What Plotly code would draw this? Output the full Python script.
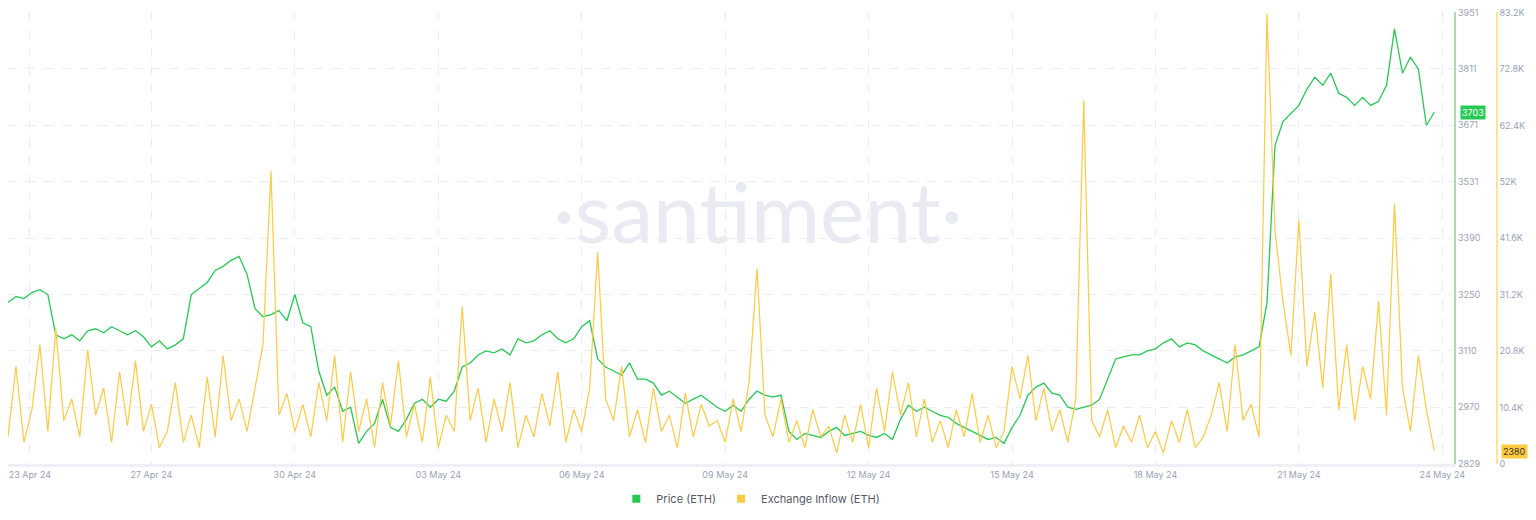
import plotly.graph_objects as go
import pandas as pd

# 4-hourly samples from 24 Apr 2024 00:00
times = pd.date_range("2024-04-24 00:00", periods=180, freq="4h")

price = [
    3230, 3245, 3240, 3255, 3262, 3250, 3150, 3140, 3150, 3135,
    3160, 3165, 3155, 3170, 3160, 3150, 3160, 3145, 3120, 3135,
    3115, 3125, 3140, 3250, 3265, 3280, 3310, 3320, 3335, 3345,
    3300, 3215, 3195, 3200, 3210, 3185, 3250, 3180, 3170, 3060,
    3000, 3020, 2960, 2970, 2880, 2910, 2930, 2990, 2920, 2910,
    2940, 2980, 2990, 2970, 2990, 2985, 3010, 3070, 3080, 3100,
    3110, 3105, 3115, 3100, 3140, 3130, 3135, 3150, 3160, 3140,
    3130, 3140, 3170, 3185, 3090, 3070, 3060, 3050, 3080, 3040,
    3040, 3030, 3000, 3010, 2995, 2980, 2990, 3000, 2985, 2970,
    2960, 2975, 2960, 2990, 3010, 3000, 2995, 3000, 2910, 2890,
    2905, 2900, 2895, 2910, 2920, 2900, 2905, 2910, 2900, 2895,
    2905, 2890, 2940, 2975, 2960, 2970, 2960, 2950, 2945, 2930,
    2920, 2910, 2900, 2890, 2895, 2880, 2920, 2950, 3000, 3020,
    3030, 3005, 3000, 2970, 2965, 2970, 2975, 2990, 3040, 3090,
    3095, 3100, 3100, 3110, 3115, 3130, 3140, 3120, 3130, 3125,
    3110, 3100, 3090, 3080, 3095, 3100, 3110, 3120, 3230, 3620,
    3680, 3700, 3720, 3760, 3790, 3770, 3800, 3750, 3740, 3720,
    3740, 3720, 3730, 3770, 3910, 3800, 3840, 3810, 3670, 3703,
]

inflow_k = [
    5, 18, 4, 10, 22, 6, 25, 8, 12, 5,
    21, 9, 14, 4, 17, 7, 19, 6, 11, 3,
    6, 15, 4, 9, 3, 16, 5, 20, 8, 12,
    6, 14, 22, 54, 9, 13, 6, 11, 5, 15,
    8, 20, 4, 17, 6, 12, 3, 15, 7, 19,
    5, 11, 4, 16, 3, 9, 6, 29, 8, 14,
    4, 12, 6, 15, 3, 9, 5, 13, 7, 17,
    4, 10, 6, 14, 39, 12, 8, 18, 5, 10,
    4, 14, 6, 9, 3, 13, 5, 11, 7, 8,
    4, 12, 6, 15, 36, 9, 5, 12, 4, 8,
    3, 10, 5, 7, 2, 9, 4, 11, 3, 14,
    6, 17, 9, 15, 5, 12, 4, 8, 3, 10,
    5, 13, 4, 9, 3, 6, 18, 12, 20, 8,
    14, 6, 10, 4, 12, 67, 8, 5, 10, 3,
    7, 4, 9, 3, 6, 2, 8, 4, 10, 3,
    5, 9, 15, 6, 22, 8, 11, 5, 83, 43,
    30, 20, 45, 18, 28, 14, 35, 10, 22, 8,
    18, 12, 30, 9, 48, 14, 6, 20, 10, 2.38,
]
inflow = [v * 1000 for v in inflow_k]

date_ticks = ["2024-04-24 11:00", "2024-04-27", "2024-04-30", "2024-05-03", "2024-05-06",
              "2024-05-09", "2024-05-12", "2024-05-15", "2024-05-18", "2024-05-21", "2024-05-24"]
date_labels = ["23 Apr 24", "27 Apr 24", "30 Apr 24", "03 May 24", "06 May 24", "09 May 24",
               "12 May 24", "15 May 24", "18 May 24", "21 May 24", "24 May 24"]
price_ticks = [2829, 2970, 3110, 3250, 3390, 3531, 3671, 3811, 3951]
inflow_ticks = [0, 10400, 20800, 31200, 41600, 52000, 62400, 72800, 83200]
inflow_labels = ["0", "10.4K", "20.8K", "31.2K", "41.6K", "52K", "62.4K", "72.8K", "83.2K"]

GREEN = "#26c953"
YELLOW = "#ffc940"
TICK = "#9aa1b5"

fig = go.Figure()
fig.add_trace(go.Scatter(x=times, y=inflow, name="Exchange Inflow (ETH)", yaxis="y2",
                         line=dict(color=YELLOW, width=1.2), showlegend=False))
fig.add_trace(go.Scatter(x=times, y=price, name="Price (ETH)",
                         line=dict(color=GREEN, width=1.3), showlegend=False))
# legend entries as squares
fig.add_trace(go.Scatter(x=[None], y=[None], mode="markers", name="Price (ETH)",
                         marker=dict(symbol="square", color=GREEN, size=8)))
fig.add_trace(go.Scatter(x=[None], y=[None], mode="markers", name="Exchange Inflow (ETH)",
                         marker=dict(symbol="square", color=YELLOW, size=8)))

grid = dict(showgrid=True, gridcolor="#ececf0", griddash="dash", gridwidth=1)
fig.update_layout(
    width=1536, height=520, plot_bgcolor="white", paper_bgcolor="white",
    margin=dict(l=0, r=20, t=4, b=64, autoexpand=False),
    font=dict(family="Inter, Roboto, sans-serif", color=TICK, size=9),
    xaxis=dict(domain=[0, 0.954], range=["2024-04-24 00:00", "2024-05-24 06:00"],
               tickvals=date_ticks, ticktext=date_labels, showline=True,
               linecolor="#eef0f5", linewidth=3, ticks="", **grid),
    yaxis=dict(side="right", range=[2829, 3952], tickvals=price_ticks, showline=True,
               linecolor="#9fe3ad", linewidth=2, ticks="", zeroline=False,
               ticklabeloverflow="allow", **grid),
    yaxis2=dict(overlaying="y", side="right", anchor="free", position=0.982,
                range=[0, 83300], tickvals=inflow_ticks, ticktext=inflow_labels,
                showline=True, linecolor="#ffe29a", linewidth=2, showgrid=False,
                zeroline=False, ticks="", ticklabeloverflow="allow"),
    legend=dict(orientation="h", x=0.49, xanchor="center", y=-0.045, yanchor="top",
                font=dict(size=11, color="#555a66")),
    annotations=[
        dict(text="·santiment·", x=0.495, y=0.56, xref="paper", yref="paper",
             showarrow=False, font=dict(size=84, color="#e9ebf3", family="Lato, sans-serif")),
        dict(text="3703", x=0.958, y=3703, xref="paper", yref="y", showarrow=False,
             xanchor="left", bgcolor=GREEN, font=dict(color="white", size=9)),
        dict(text="2380", x=0.985, y=2380, xref="paper", yref="y2", showarrow=False,
             xanchor="left", bgcolor=YELLOW, font=dict(color="#333", size=9)),
    ],
)
fig.write_html("out.html")
